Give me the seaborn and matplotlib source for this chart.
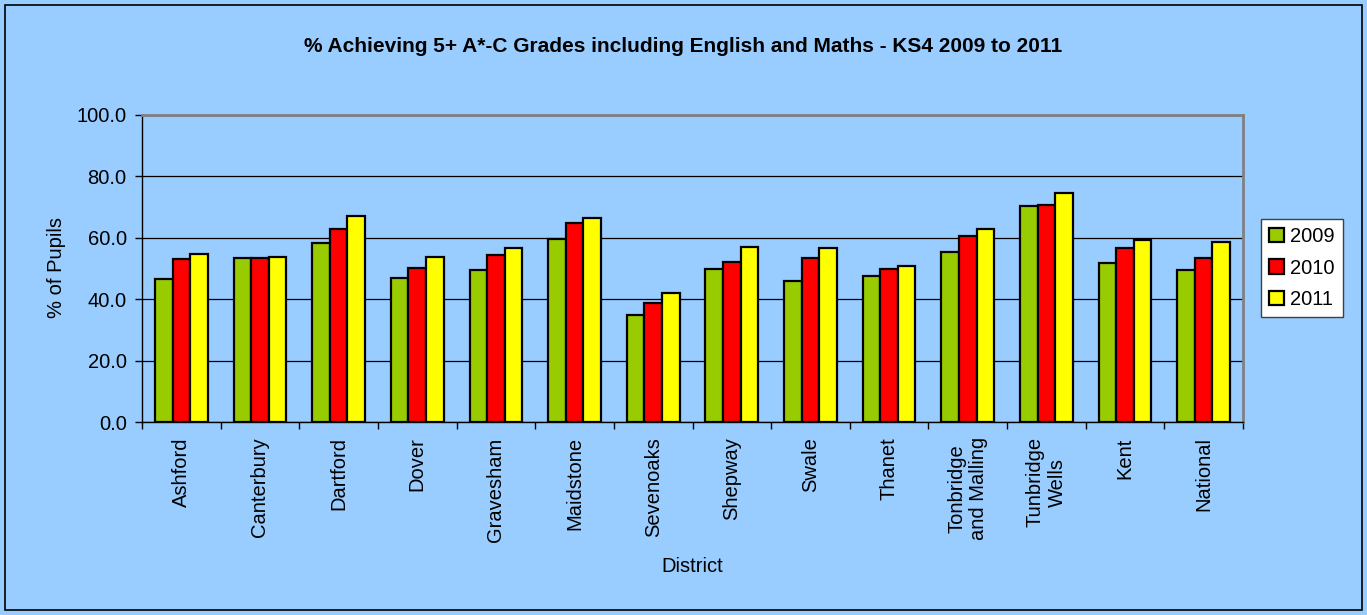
import matplotlib
matplotlib.use("Agg")
import matplotlib.pyplot as plt
import matplotlib.patches as mpatches
from matplotlib.ticker import FixedLocator, FuncFormatter
import seaborn as sns
import pandas as pd
import numpy as np

districts = ["Ashford", "Canterbury", "Dartford", "Dover", "Gravesham", "Maidstone",
             "Sevenoaks", "Shepway", "Swale", "Thanet", "Tonbridge\nand Malling",
             "Tunbridge\nWells", "Kent", "National"]
years = ["2009", "2010", "2011"]
v2009 = [46.7, 53.3, 58.2, 46.8, 49.5, 59.7, 34.7, 49.8, 45.8, 47.5, 55.5, 70.5, 51.9, 49.6]
v2010 = [53.0, 53.5, 62.8, 50.2, 54.3, 64.8, 38.9, 52.2, 53.3, 49.7, 60.7, 70.8, 56.7, 53.3]
v2011 = [54.7, 53.9, 67.0, 53.6, 56.8, 66.6, 42.1, 57.0, 56.8, 50.9, 62.9, 74.5, 59.2, 58.6]
colors = ["#99CC00", "#FF0000", "#FFFF00"]

df = pd.DataFrame({
    "District": districts * 3,
    "Year": [y for y in years for _ in districts],
    "Value": v2009 + v2010 + v2011,
})

sns.set_theme(style="white")
plt.rcParams['font.family'] = ['Liberation Sans', 'DejaVu Sans']
plt.rcParams['text.color'] = 'black'
plt.rcParams['xtick.color'] = 'black'
plt.rcParams['ytick.color'] = 'black'
plt.rcParams['axes.labelcolor'] = 'black'

bg = "#99CCFF"
fig = plt.figure(figsize=(13.67, 6.15), dpi=100, facecolor=bg)
ax = fig.add_axes([142/1367, 1 - 422/615, (1243-142)/1367, (422-115)/615])
ax.set_facecolor(bg)

sns.barplot(data=df, x="District", y="Value", hue="Year", palette=colors,
            width=0.67, edgecolor="black", linewidth=1.6, ax=ax, saturation=1,
            legend=True)

ax.set_ylim(0, 100)
ax.set_xlim(-0.5, len(districts) - 0.5)
ax.yaxis.set_major_locator(FixedLocator([0, 20, 40, 60, 80, 100]))
ax.yaxis.set_major_formatter(FuncFormatter(lambda v, p: f"{v:.1f}"))
ax.grid(axis="y", color="black", linewidth=0.9)
ax.set_axisbelow(True)
ax.tick_params(axis="y", which="major", direction="out", length=5, width=1,
               color="black", labelcolor="black", labelsize=14.5, pad=6, left=True)
ax.set_xticks(range(len(districts)))
ax.set_xticklabels(districts, rotation=90, ha="center", va="top",
                   multialignment="center", fontsize=14.5, color="black")
ax.tick_params(axis="x", which="major", length=0, pad=11)
ax.set_xticks(np.arange(-0.5, len(districts), 1.0), minor=True)
ax.tick_params(axis="x", which="minor", direction="out", length=5, width=1,
               color="black", bottom=True)

for side in ["top", "right"]:
    ax.spines[side].set_color("#808080")
    ax.spines[side].set_linewidth(2)
for side in ["left", "bottom"]:
    ax.spines[side].set_color("black")
    ax.spines[side].set_linewidth(1)

ax.set_xlabel("")
ax.set_ylabel("")
fig.text(56/1367, 1 - 268/615, "% of Pupils", rotation=90, ha="center", va="center",
         fontsize=14.5, color="black")
fig.text(692/1367, 1 - 566/615, "District", ha="center", va="center", fontsize=14.5,
         color="black")
fig.text(683/1367, 1 - 47/615,
         "% Achieving 5+ A*-C Grades including English and Maths - KS4 2009 to 2011",
         ha="center", va="center", fontsize=15, fontweight="bold", color="black")

handles, labels = ax.get_legend_handles_labels()
ax.legend_.remove()
leg = fig.legend(handles, labels, loc="upper left",
                 bbox_to_anchor=(1261/1367, 1 - 219/615),
                 frameon=True, fontsize=14.5, fancybox=False,
                 edgecolor="#404040", facecolor="white", framealpha=1,
                 handlelength=0.75, handleheight=0.75, handletextpad=0.3,
                 labelspacing=0.62, borderpad=0.4, borderaxespad=0)
leg.get_frame().set_linewidth(1)
for t in leg.get_texts():
    t.set_color("black")

fig.patches.append(mpatches.Rectangle((5/1367, 5/615), 1 - 10/1367, 1 - 10/615,
                                      transform=fig.transFigure, fill=False,
                                      edgecolor="black", linewidth=1.2))

fig.savefig("out.png", dpi=100, facecolor=bg)
